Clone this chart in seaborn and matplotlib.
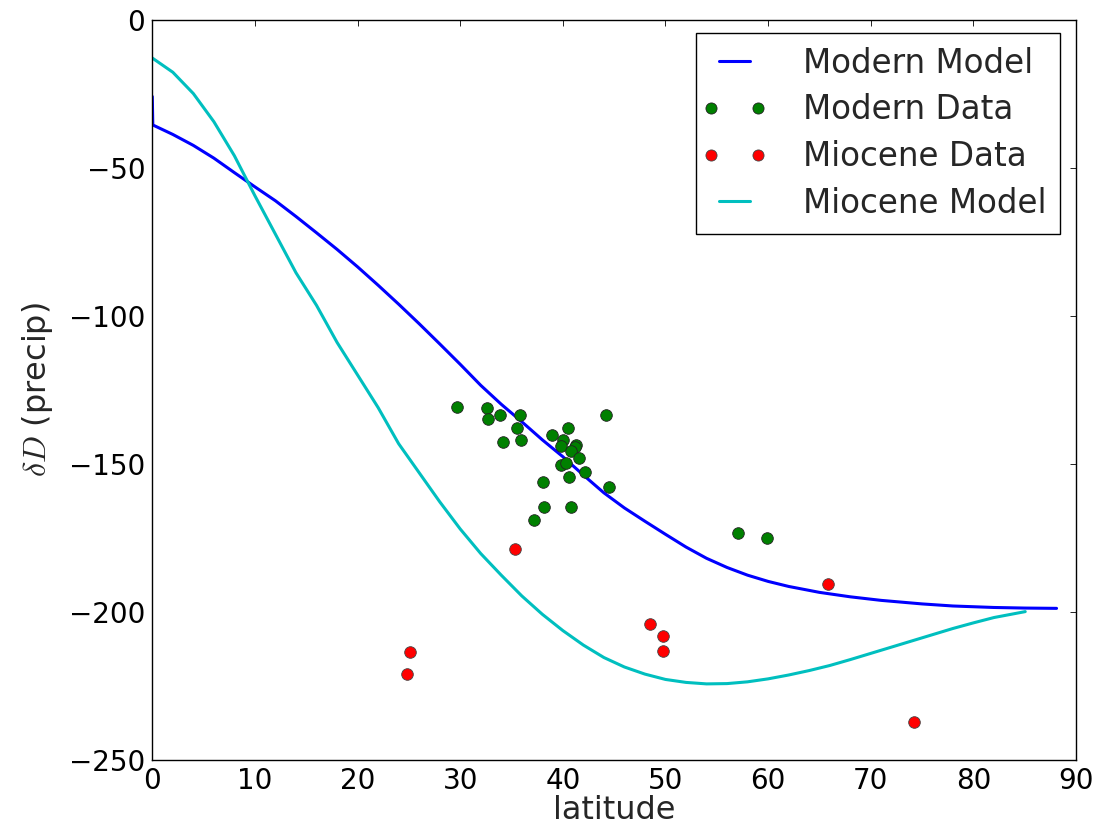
import matplotlib
matplotlib.use("Agg")
import matplotlib.pyplot as plt
from matplotlib.lines import Line2D
from matplotlib.legend_handler import HandlerLine2D
import seaborn as sns
import pandas as pd

# Modern model curve (latitude, deltaD)
modern_model_lat = [0.0, 0.05, 2, 4, 6, 8, 10, 12, 14, 16, 18, 20, 22, 24, 26, 28,
                    30, 32, 34, 36, 38, 40, 42, 44, 46, 48, 50, 52, 54, 56, 58,
                    60, 62, 65, 68, 71, 75, 78, 82, 85, 88.1]
modern_model_dD = [-26.0, -35.6, -38.8, -42.5, -46.8, -51.7, -56.5, -61.2, -66.5, -72.0,
                   -77.6, -83.5, -89.7, -96.1, -102.7, -109.5, -116.4, -123.5, -129.9,
                   -135.8, -141.9, -147.6, -153.8, -159.8, -164.9, -169.4, -173.8,
                   -178.1, -181.9, -185.0, -187.6, -189.7, -191.4, -193.4, -194.9,
                   -196.1, -197.3, -198.0, -198.5, -198.7, -198.8]

# Miocene model curve
miocene_model_lat = [0.0, 2, 4, 6, 8, 10, 12, 14, 16, 18, 20, 22, 24, 26, 28, 30,
                     32, 34, 36, 38, 40, 42, 44, 46, 48, 50, 52, 54, 56, 58, 60,
                     62, 64, 66, 68, 70, 72, 74, 76, 78, 80, 82, 85.05]
miocene_model_dD = [-13.0, -17.8, -25.0, -34.5, -46.0, -59.5, -72.5, -85.5, -96.5,
                    -109.0, -120.0, -131.0, -143.2, -153.0, -162.8, -172.0, -180.3,
                    -187.6, -194.6, -200.8, -206.3, -211.2, -215.4, -218.6, -221.0,
                    -222.8, -223.8, -224.3, -224.2, -223.6, -222.6, -221.3, -219.8,
                    -218.1, -216.1, -214.0, -211.9, -209.8, -207.7, -205.6, -203.7,
                    -201.9, -199.9]

# Modern precipitation samples
modern_lat = [29.7, 32.6, 32.75, 33.9, 35.8, 35.5, 34.2, 35.9, 44.2, 40.5,
              38.9, 40.0, 39.8, 41.3, 41.2, 40.8, 41.6, 39.8, 40.3, 42.2,
              40.6, 44.5, 38.05, 38.2, 40.8, 37.2, 57.1, 59.9]
modern_dD = [-130.8, -131.3, -134.8, -133.5, -133.5, -138.0, -142.5, -141.9, -133.6, -137.9,
             -140.3, -142.0, -143.9, -143.5, -144.2, -145.6, -148.1, -150.3, -149.8, -152.7,
             -154.3, -157.7, -156.0, -164.5, -164.5, -169.0, -173.3, -174.9]

# Miocene proxy samples
miocene_lat = [35.3, 25.1, 24.8, 48.5, 49.8, 49.8, 65.8, 74.2]
miocene_dD = [-178.9, -213.6, -221.0, -204.1, -208.0, -213.1, -190.6, -237.1]

x_ticks = [0, 10, 20, 30, 40, 50, 60, 70, 80, 90]
y_ticks = [0, -50, -100, -150, -200, -250]

TICK_FS = 20
LABEL_FS = 23
LEGEND_FS = 23.5

sns.set_theme(style="white")
plt.rcParams.update({
    "font.family": ["DejaVu Sans"],
    "mathtext.fontset": "cm",
    "axes.edgecolor": "black",
    "axes.linewidth": 1.0,
    "xtick.direction": "in",
    "ytick.direction": "in",
    "xtick.top": True,
    "ytick.right": True,
    "xtick.major.size": 4,
    "ytick.major.size": 4,
    "xtick.major.width": 0.6,
    "ytick.major.width": 0.6,
    "xtick.color": "black",
    "ytick.color": "black",
})

BLUE = (0, 0, 1)
CYAN = (0, 0.75, 0.75)
GREEN = (0, 0.5, 0)
RED = (1, 0, 0)

fig = plt.figure(figsize=(10.98, 8.27), dpi=100)
ax = fig.add_axes([0.1387, 0.081, 0.8413, 0.8954])

mm = pd.DataFrame({"lat": modern_model_lat, "dD": modern_model_dD})
mi = pd.DataFrame({"lat": miocene_model_lat, "dD": miocene_model_dD})
md = pd.DataFrame({"lat": modern_lat, "dD": modern_dD})
mp = pd.DataFrame({"lat": miocene_lat, "dD": miocene_dD})

sns.lineplot(data=mm, x="lat", y="dD", ax=ax, color=BLUE, linewidth=2.2,
             sort=False, estimator=None)
sns.scatterplot(data=md, x="lat", y="dD", ax=ax, color=GREEN, s=70,
                edgecolor="#222222", linewidth=0.6, zorder=3)
sns.scatterplot(data=mp, x="lat", y="dD", ax=ax, color=RED, s=70,
                edgecolor="#444444", linewidth=0.6, zorder=3)
sns.lineplot(data=mi, x="lat", y="dD", ax=ax, color=CYAN, linewidth=2.2,
             sort=False, estimator=None)

ax.set_xlim(0, 90)
ax.set_ylim(-250, 0)
ax.set_xticks(x_ticks)
ax.set_yticks(y_ticks)
ax.tick_params(labelsize=TICK_FS, pad=5)
ax.set_xlabel("latitude", fontsize=LABEL_FS, labelpad=0)
ax.set_ylabel(r"$\delta D$ (precip)", fontsize=LABEL_FS, labelpad=10)

handles = [
    Line2D([], [], color=BLUE, linewidth=2.2),
    Line2D([], [], color=GREEN, linestyle="none", marker="o", markersize=8,
           markeredgecolor="#222222", markeredgewidth=0.6),
    Line2D([], [], color=RED, linestyle="none", marker="o", markersize=8,
           markeredgecolor="#444444", markeredgewidth=0.6),
    Line2D([], [], color=CYAN, linewidth=2.2),
]
labels = ["Modern Model", "Modern Data", "Miocene Data", "Miocene Model"]
dot_handler = HandlerLine2D(marker_pad=0.05)
leg = ax.legend(handles, labels, loc="upper right", fontsize=LEGEND_FS, numpoints=2,
                handlelength=1.53, handletextpad=1.33, borderpad=0.42,
                labelspacing=0.42, fancybox=False, framealpha=1,
                edgecolor="black", borderaxespad=0,
                bbox_to_anchor=(0.9827, 0.9818),
                handler_map={handles[1]: dot_handler, handles[2]: dot_handler})
leg.get_frame().set_linewidth(1.0)

fig.savefig("out.png", dpi=100, facecolor="white")
